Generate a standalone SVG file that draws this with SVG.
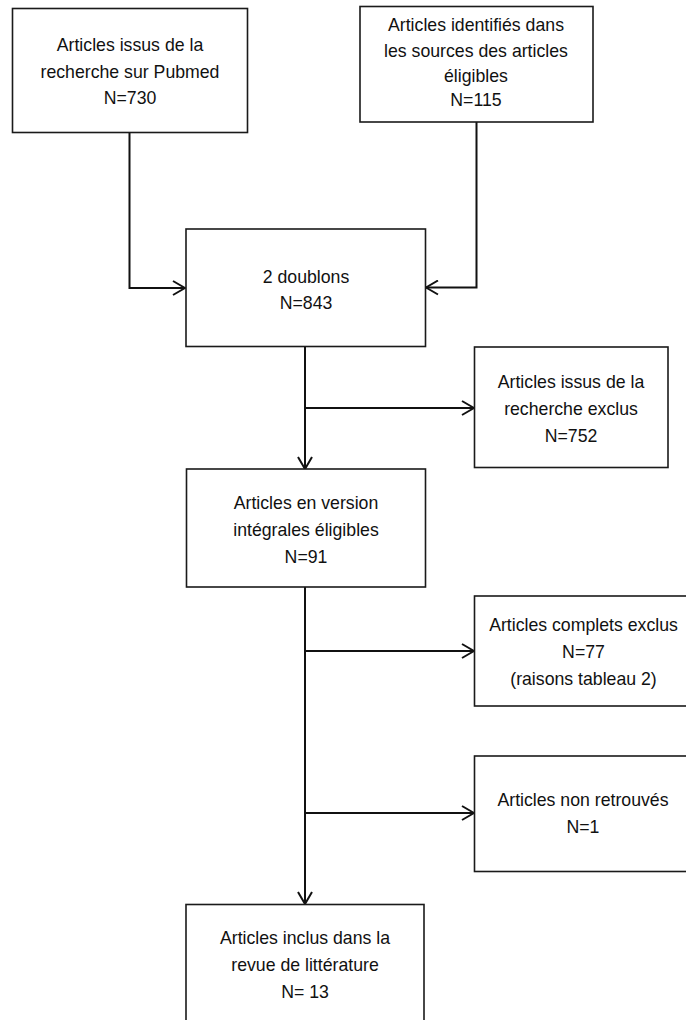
<svg xmlns="http://www.w3.org/2000/svg" width="686" height="1020" viewBox="0 0 686 1020">
<defs>
<style>
.box{fill:#fff;stroke:#1a1a1a;stroke-width:1.6}
.t{font-family:"Liberation Sans",Arial,sans-serif;font-size:17.7px;fill:#111;text-anchor:middle}
.c{fill:none;stroke:#111;stroke-width:2}
</style>
<marker id="ah" viewBox="0 0 14 16" refX="13" refY="8" markerWidth="14" markerHeight="16" markerUnits="userSpaceOnUse" orient="auto">
<path d="M1,1 L13,8 L1,15" fill="none" stroke="#111" stroke-width="2"/>
</marker>
</defs>
<rect width="686" height="1020" fill="#fff"/>
<g id="connectors">
<path class="c" d="M129.5,132 V288 H185" marker-end="url(#ah)"/>
<path class="c" d="M476.5,122 V287.5 H426" marker-end="url(#ah)"/>
<path class="c" d="M305,347 V469" marker-end="url(#ah)"/>
<path class="c" d="M305,408 H474" marker-end="url(#ah)"/>
<path class="c" d="M305,587 V904" marker-end="url(#ah)"/>
<path class="c" d="M305,651 H474" marker-end="url(#ah)"/>
<path class="c" d="M305,813 H474" marker-end="url(#ah)"/>
</g>
<g id="n1"><rect class="box" x="12.5" y="8.5" width="235" height="124"/>
<text class="t" x="130" y="51">Articles issus de la</text>
<text class="t" x="130" y="78">recherche sur Pubmed</text>
<text class="t" x="130" y="104">N=730</text></g>
<g id="n2"><rect class="box" x="360" y="6.5" width="233" height="115.5"/>
<text class="t" x="476" y="31">Articles identifiés dans</text>
<text class="t" x="476" y="57">les sources des articles</text>
<text class="t" x="476" y="82">éligibles</text>
<text class="t" x="476" y="106">N=115</text></g>
<g id="n3"><rect class="box" x="186" y="229" width="239.5" height="117.5"/>
<text class="t" x="306" y="283">2 doublons</text>
<text class="t" x="306" y="309">N=843</text></g>
<g id="n4"><rect class="box" x="474.5" y="347" width="193.5" height="120.5"/>
<text class="t" x="571" y="388">Articles issus de la</text>
<text class="t" x="571" y="415">recherche exclus</text>
<text class="t" x="571" y="442">N=752</text></g>
<g id="n5"><rect class="box" x="186.5" y="469" width="239" height="118"/>
<text class="t" x="306" y="509">Articles en version</text>
<text class="t" x="306" y="536">intégrales éligibles</text>
<text class="t" x="306" y="563">N=91</text></g>
<g id="n6"><rect class="box" x="474.5" y="596" width="225" height="110"/>
<text class="t" x="583.5" y="631">Articles complets exclus</text>
<text class="t" x="583.5" y="658">N=77</text>
<text class="t" x="583.5" y="685">(raisons tableau 2)</text></g>
<g id="n7"><rect class="box" x="474.5" y="756" width="225" height="115.5"/>
<text class="t" x="583" y="806">Articles non retrouvés</text>
<text class="t" x="583" y="833">N=1</text></g>
<g id="n8"><rect class="box" x="186" y="904.5" width="238" height="130"/>
<text class="t" x="305" y="944">Articles inclus dans la</text>
<text class="t" x="305" y="971">revue de littérature</text>
<text class="t" x="305" y="998">N= 13</text></g>
</svg>
